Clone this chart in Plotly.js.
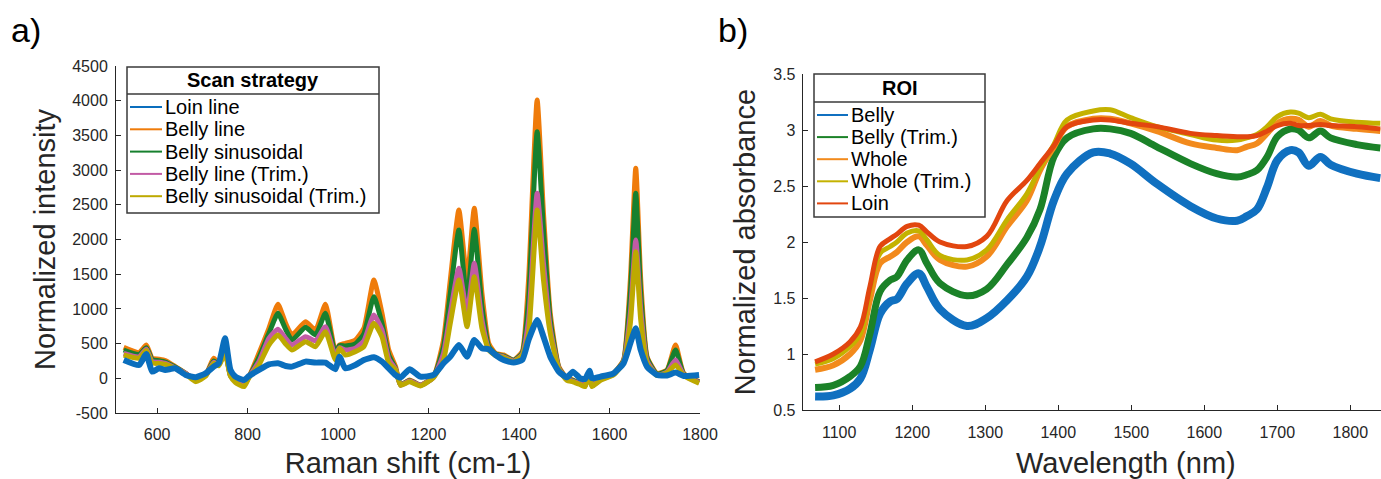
<!DOCTYPE html>
<html>
<head>
<meta charset="utf-8">
<script src="https://cdn.plot.ly/plotly-3.0.1.min.js"></script>
<style>html,body{margin:0;padding:0;background:#fff;}#chart{width:1381px;height:479px;}</style>
</head>
<body>
<div id="chart"></div>
<script>
// ---------- Panel a) Raman spectra ----------
const ramanShift = [526,560,576,589,604,618,640,663,685,707,725,736,750,762,773,792,803,825,847,867,884,898,928,950,972,994,1003,1016,1038,1057,1079,1097,1112,1127,1138,1158,1182,1211,1233,1248,1267,1285,1301,1318,1333,1348,1366,1388,1407,1421,1440,1454,1469,1488,1506,1519,1535,1546,1556,1561,1580,1609,1631,1646,1658,1669,1683,1705,1727,1746,1764,1798];
const loinLine = [264,192,350,96,144,120,144,48,14,72,168,216,576,120,24,-24,34,120,200,216,178,168,240,226,226,130,312,144,192,264,302,240,144,48,10,130,24,48,216,312,480,312,552,432,420,336,264,226,264,552,840,600,312,96,14,96,0,-10,110,0,24,72,216,504,720,408,168,48,40,82,34,48];
const bellyLine = [446,370,480,288,274,254,168,72,-24,48,288,216,420,48,-30,-82,24,360,720,1066,792,624,816,696,1066,384,480,504,552,720,1416,936,408,168,-96,-24,-96,24,552,1417,2425,1417,2450,1225,504,360,336,264,384,1417,4010,2377,937,168,0,-24,-72,-96,96,-96,0,72,264,1417,3026,1417,312,72,120,480,72,-48];
const bellySinusoidal = [408,345,440,270,255,235,160,70,-30,40,250,200,400,40,-35,-90,20,302,648,936,706,552,734,624,936,360,470,466,494,640,1176,792,336,140,-96,-30,-100,20,456,1225,2137,1105,2147,1033,456,350,320,260,360,1129,3554,2137,840,150,-10,-30,-80,-110,90,-110,-10,70,250,1225,2666,1225,290,60,110,408,60,-55];
const bellyLineTrim = [360,310,420,240,230,215,150,70,-30,40,230,190,380,40,-40,-100,20,240,576,706,576,480,600,542,744,322,440,408,432,540,912,696,280,130,-96,-40,-100,15,360,937,1585,937,1657,840,420,340,310,250,340,840,2666,1657,720,140,-20,-40,-80,-110,80,-110,-20,60,240,937,1993,985,250,50,90,264,50,-60];
const bellySinusoidalTrim = [336,290,400,220,215,200,140,60,-48,30,216,180,360,30,-60,-120,10,192,480,624,494,408,528,456,672,264,432,336,384,456,792,600,216,120,-100,-50,-110,10,264,792,1417,744,1465,720,408,330,300,240,330,648,2425,1417,648,130,-30,-50,-90,-120,70,-120,-30,50,230,792,1825,840,220,40,80,192,40,-72];
const ramanNames = ["Loin line","Belly line","Belly sinusoidal","Belly line (Trim.)","Belly sinusoidal (Trim.)"];
const ramanTicks = [-500,0,500,1000,1500,2000,2500,3000,3500,4000,4500];
const ramanTickLabels = ["-500","0","500","1000","1500","2000","2500","3000","3500","4000","4500"];

// ---------- Panel b) NIR spectra ----------
const nirWavelength = [1067,1092,1115,1129,1142,1156,1170,1179,1193,1209,1220,1238,1275,1302,1330,1357,1375,1394,1412,1448,1471,1499,1535,1581,1617,1645,1658,1672,1686,1700,1718,1729,1743,1759,1773,1809,1841];
const belly = [0.62,0.63,0.69,0.78,1.04,1.36,1.47,1.49,1.63,1.72,1.60,1.40,1.25,1.32,1.48,1.69,1.96,2.37,2.61,2.80,2.79,2.70,2.52,2.32,2.21,2.19,2.23,2.29,2.49,2.73,2.82,2.80,2.68,2.76,2.69,2.61,2.57];
const bellyTrim = [0.70,0.72,0.80,0.89,1.18,1.56,1.66,1.69,1.84,1.93,1.81,1.63,1.52,1.58,1.80,2.04,2.29,2.76,2.93,3.01,3.01,2.97,2.85,2.70,2.61,2.58,2.60,2.64,2.76,2.94,3.01,3.00,2.93,2.99,2.93,2.87,2.84];
const whole = [0.86,0.90,1.00,1.12,1.48,1.81,1.87,1.91,2.00,2.05,1.97,1.84,1.78,1.87,2.14,2.37,2.64,2.85,3.03,3.10,3.10,3.06,2.99,2.88,2.84,2.82,2.85,2.88,2.97,3.06,3.10,3.09,3.03,3.08,3.04,3.01,2.99];
const wholeTrim = [0.91,0.96,1.07,1.18,1.57,1.90,1.96,2.00,2.08,2.10,2.02,1.88,1.84,1.93,2.20,2.43,2.66,2.87,3.09,3.17,3.18,3.11,3.03,2.96,2.91,2.91,2.93,2.96,3.03,3.12,3.16,3.15,3.11,3.14,3.10,3.07,3.06];
const loin = [0.93,1.00,1.11,1.24,1.60,1.96,2.03,2.07,2.14,2.15,2.09,2.00,1.96,2.05,2.37,2.55,2.70,2.86,3.03,3.09,3.09,3.06,3.03,2.97,2.95,2.94,2.94,2.95,2.99,3.04,3.06,3.04,3.04,3.05,3.04,3.03,3.01];
const nirNames = ["Belly","Belly (Trim.)","Whole","Whole (Trim.)","Loin"];

// ---------- styling ----------
const FONT = "Liberation Sans, Arial, Helvetica, sans-serif";
const INK = "#262626";
const ramanColors = ["#0A6EBD","#EF7B0A","#17802E","#C25BA5","#BDA900"];
const ramanWidths = [6,5,5,5,5];
const nirColors = ["#1070C0","#1B8228","#F28A1C","#C4B200","#E2460F"];
const nirWidths = [8,7,6,5,5];

const ramanSeries = [loinLine, bellyLine, bellySinusoidal, bellyLineTrim, bellySinusoidalTrim];
const nirSeries = [belly, bellyTrim, whole, wholeTrim, loin];

const traces = [];
// draw belly series first, loin line on top
[1,2,3,4,0].forEach(i => {
  traces.push({
    type: "scatter", mode: "lines", x: ramanShift, y: ramanSeries[i], name: ramanNames[i],
    xaxis: "x", yaxis: "y", hoverinfo: "skip",
    line: {color: ramanColors[i], width: ramanWidths[i], shape: "spline", smoothing: 0.5}
  });
});
[0,1,2,3,4].forEach(i => {
  traces.push({
    type: "scatter", mode: "lines", x: nirWavelength, y: nirSeries[i], name: nirNames[i],
    xaxis: "x2", yaxis: "y2", hoverinfo: "skip",
    line: {color: nirColors[i], width: nirWidths[i], shape: "spline", smoothing: 1}
  });
});

// pixel -> paper helpers (plot area: x 116..1381, y 66..413)
const ML = 116, MT = 66, PW = 1265, PH = 347;
const fx = px => (px - ML) / PW;
const fy = py => (MT + PH - py) / PH;

const axisCommon = {
  showgrid: false, zeroline: false, showline: true, linecolor: INK, linewidth: 1,
  ticks: "inside", ticklen: 5, tickwidth: 1, tickcolor: INK,
  tickfont: {family: FONT, size: 16, color: INK}, automargin: false
};

const shapes = [];
const annotations = [];

function buildLegend(box, sepY, titleText, names, colors, firstY, stepY, sampleX0, sampleX1, textX) {
  shapes.push({type: "rect", xref: "paper", yref: "paper", x0: fx(box[0]), x1: fx(box[2]), y0: fy(box[1]), y1: fy(box[3]),
    line: {color: "#3a3a3a", width: 1.5}, fillcolor: "#ffffff", layer: "above"});
  shapes.push({type: "line", xref: "paper", yref: "paper", x0: fx(box[0]), x1: fx(box[2]), y0: fy(sepY), y1: fy(sepY),
    line: {color: "#3a3a3a", width: 1.5}, layer: "above"});
  annotations.push({xref: "paper", yref: "paper", x: fx((box[0] + box[2]) / 2), y: fy((box[1] + sepY) / 2),
    text: "<b>" + titleText + "</b>", showarrow: false, xanchor: "center", yanchor: "middle",
    font: {family: FONT, size: 20, color: "#000"}});
  names.forEach((n, i) => {
    const yy = firstY + i * stepY;
    shapes.push({type: "line", xref: "paper", yref: "paper", x0: fx(sampleX0), x1: fx(sampleX1), y0: fy(yy), y1: fy(yy),
      line: {color: colors[i], width: 2}, layer: "above"});
    annotations.push({xref: "paper", yref: "paper", x: fx(textX), y: fy(yy), text: n, showarrow: false,
      xanchor: "left", yanchor: "middle", font: {family: FONT, size: 20, color: "#000"}});
  });
}

buildLegend([127, 67, 379, 213], 94, "Scan strategy", ramanNames, ramanColors, 107, 22.3, 130, 162, 163);
buildLegend([814, 74, 985, 217], 102, "ROI", nirNames, nirColors, 115, 22.1, 817, 848, 849);

annotations.push({xref: "paper", yref: "paper", x: fx(26), y: fy(30), text: "a)", showarrow: false,
  xanchor: "center", yanchor: "middle", font: {family: FONT, size: 34, color: "#000"}});
annotations.push({xref: "paper", yref: "paper", x: fx(733), y: fy(30), text: "b)", showarrow: false,
  xanchor: "center", yanchor: "middle", font: {family: FONT, size: 34, color: "#000"}});
annotations.push({xref: "paper", yref: "paper", x: fx(1126), y: fy(463), text: "Wavelength (nm)", showarrow: false,
  xanchor: "center", yanchor: "middle", font: {family: FONT, size: 29, color: INK}});

const layout = {
  width: 1381, height: 479,
  margin: {l: ML, r: 0, t: MT, b: 479 - MT - PH, pad: 0},
  paper_bgcolor: "#ffffff", plot_bgcolor: "#ffffff",
  showlegend: false,
  font: {family: FONT, color: INK},
  xaxis: Object.assign({}, axisCommon, {
    domain: [0, fx(700)], range: [509, 1800], tickmode: "linear", tick0: 0, dtick: 200, anchor: "y",
    ticklabelstandoff: 7,
    title: {text: "Raman shift (cm-1)", font: {family: FONT, size: 29, color: INK}, standoff: 10}
  }),
  yaxis: Object.assign({}, axisCommon, {
    domain: [0, 1], range: [-500, 4500], tickmode: "array", tickvals: ramanTicks, ticktext: ramanTickLabels, anchor: "x",
    ticklabelstandoff: 4,
    title: {text: "Normalized intensity", font: {family: FONT, size: 29, color: INK}, standoff: 8}
  }),
  xaxis2: Object.assign({}, axisCommon, {
    domain: [fx(802.7), 1], range: [1050, 1842], tickmode: "linear", tick0: 0, dtick: 100, anchor: "y2",
    ticklabelstandoff: 8
  }),
  yaxis2: Object.assign({}, axisCommon, {
    domain: [fy(410), fy(74)], range: [0.5, 3.5], tickmode: "linear", tick0: 0, dtick: 0.5, anchor: "x2",
    ticklabelstandoff: 3,
    title: {text: "Normalized absorbance", font: {family: FONT, size: 29, color: INK}, standoff: 9}
  }),
  shapes: shapes,
  annotations: annotations
};

Plotly.newPlot("chart", traces, layout, {staticPlot: true, displayModeBar: false});
</script>
</body>
</html>
